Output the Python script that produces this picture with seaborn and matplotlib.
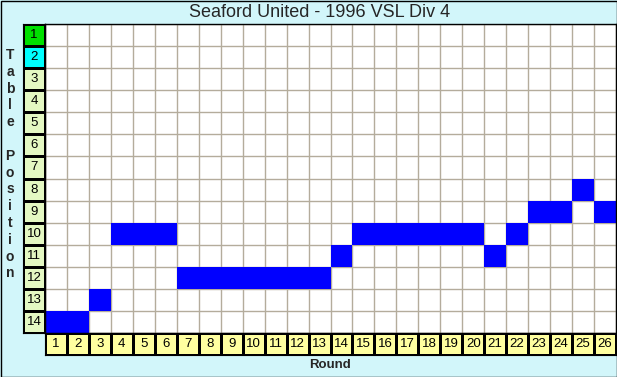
import matplotlib
matplotlib.use('Agg')
import matplotlib.pyplot as plt
import numpy as np
import pandas as pd
import seaborn as sns
from matplotlib.colors import ListedColormap

# ---- data ----
rounds = list(range(1, 27))
positions = [14, 14, 13, 10, 10, 10, 12, 12, 12, 12, 12, 12, 12, 11,
             10, 10, 10, 10, 10, 10, 11, 10, 9, 9, 8, 9]
table_rows = list(range(1, 15))
title = "Seaford United - 1996 VSL Div 4"
x_label = "Round"
y_label = "Table Position"

sns.set_style("white")
plt.rcParams['font.family'] = ['Liberation Sans', 'DejaVu Sans']

W, H = 617, 377
fig = plt.figure(figsize=(W / 100, H / 100), dpi=100)
fig.patch.set_facecolor('#D2F6FA')


def ax_px(x0, y0, x1, y1):
    return fig.add_axes([x0 / W, 1 - y1 / H, (x1 - x0) / W, (y1 - y0) / H])


# main grid
grid = pd.DataFrame(0, index=table_rows, columns=rounds)
for r, p in zip(rounds, positions):
    grid.loc[p, r] = 1

ax = ax_px(45, 24, 616, 333)
ax.set_facecolor('white')
sns.heatmap(grid, ax=ax, mask=(grid == 0), cmap=ListedColormap(['#0000FF']),
            vmin=0, vmax=1, cbar=False, xticklabels=False, yticklabels=False)
ax.set_xticks(np.arange(0, len(rounds) + 1))
ax.set_yticks(np.arange(0, len(table_rows) + 1))
ax.set_xticklabels([])
ax.set_yticklabels([])
ax.tick_params(length=0)
ax.set_axisbelow(True)
ax.grid(True, color='#B4AC9C', lw=1)
ax.set_xlabel('')
ax.set_ylabel('')
for s in ax.spines.values():
    s.set_visible(True)
    s.set_color('black')
    s.set_linewidth(1)

# y label boxes
ycat = np.array([0, 1] + [2] * (len(table_rows) - 2)).reshape(-1, 1)
axy = ax_px(23, 24, 45, 333)
sns.heatmap(ycat, ax=axy, cmap=ListedColormap(['#00E000', '#00FFFF', '#E4F8C2']),
            vmin=-0.5, vmax=2.5, cbar=False,
            annot=np.array([str(v) for v in table_rows]).reshape(-1, 1), fmt='',
            annot_kws=dict(color='black', fontsize=9.5),
            linewidths=1, linecolor='black', xticklabels=False, yticklabels=False)
for s in axy.spines.values():
    s.set_visible(True)
    s.set_color('black')

# x label boxes
xcat = np.zeros((1, len(rounds)))
axx = ax_px(45, 333, 616, 355)
sns.heatmap(xcat, ax=axx, cmap=ListedColormap(['#FFFFA0']), vmin=0, vmax=1,
            cbar=False,
            annot=np.array([str(v) for v in rounds]).reshape(1, -1), fmt='',
            annot_kws=dict(color='black', fontsize=9.5),
            linewidths=1, linecolor='black', xticklabels=False, yticklabels=False)
for s in axx.spines.values():
    s.set_visible(True)
    s.set_color('black')

# texts
fig.text(319.5 / W, 1 - 12.5 / H, title, ha='center', va='center', fontsize=13)
fig.text(330.5 / W, 1 - 365 / H, x_label, ha='center', va='center',
         fontsize=9.5, fontweight='bold')
for i, ch in enumerate(y_label):
    if ch == ' ':
        continue
    fig.text(10 / W, 1 - (55 + i * 16.8) / H, ch, ha='center', va='center',
             fontsize=10, fontweight='bold')

fig.add_artist(plt.Rectangle((0.5 / W, 0.5 / H), 1 - 1 / W, 1 - 1 / H,
                             transform=fig.transFigure, fill=False,
                             ec='black', lw=1))

fig.savefig('out.png', dpi=100, facecolor=fig.get_facecolor())
